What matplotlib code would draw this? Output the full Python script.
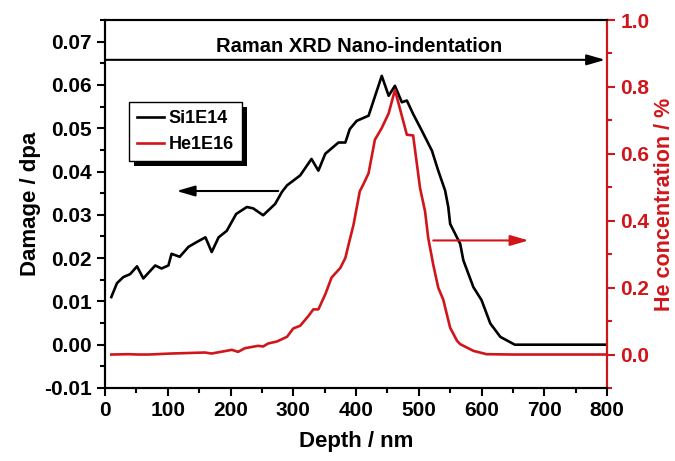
import matplotlib
matplotlib.use("Agg")
import matplotlib.pyplot as plt
from matplotlib.ticker import MultipleLocator, FormatStrFormatter
from matplotlib.patches import Rectangle
from matplotlib.transforms import IdentityTransform

plt.rcParams['font.family'] = ['Liberation Sans', 'DejaVu Sans']
plt.rcParams['font.weight'] = 'bold'

# Si1E14 damage profile (dpa vs depth)
si_depth = [10, 19, 29, 40, 51, 61, 80, 90, 101, 106, 119, 133, 146, 160, 170,
            181, 194, 209, 226, 236, 252, 271, 282, 290, 311, 329, 340, 351, 372, 383,
            390, 401, 420, 441, 452, 462, 473, 481, 491, 505, 521, 531, 542, 547, 550,
            566, 571, 587, 600, 614, 630, 653, 700, 750, 800]
si_dpa = [0.0110, 0.0142, 0.0156, 0.0163, 0.0181, 0.0153, 0.0183, 0.0176, 0.0183, 0.0210,
          0.0203, 0.0226, 0.0237, 0.0248, 0.0214, 0.0248, 0.0263, 0.0302, 0.0318, 0.0315,
          0.0299, 0.0325, 0.0353, 0.0368, 0.0391, 0.0429, 0.0402, 0.0441, 0.0467, 0.0467,
          0.0498, 0.0517, 0.0529, 0.0621, 0.0575, 0.0598, 0.0560, 0.0564, 0.0533, 0.0494,
          0.0448, 0.0402, 0.0356, 0.0318, 0.0279, 0.0233, 0.0195, 0.0133, 0.0103, 0.0049,
          0.0018, 0.0, 0.0, 0.0, 0.0]

# He1E16 concentration profile (% vs depth)
he_depth = [10, 37, 53, 69, 106, 159, 170, 202, 212, 223, 244, 252, 260, 274, 290,
            300, 311, 324, 332, 340, 351, 361, 375, 383, 390, 396, 401, 406, 412, 420,
            430, 441, 452, 462, 481, 491, 502, 510, 515, 523, 531, 539, 550, 561, 566,
            587, 608, 650, 700, 750, 800]
he_conc = [0.0, 0.001, 0.0, 0.0, 0.003, 0.006, 0.003, 0.014, 0.008, 0.019,
           0.026, 0.024, 0.033, 0.039, 0.053, 0.078, 0.086, 0.115, 0.135, 0.135,
           0.180, 0.230, 0.259, 0.289, 0.343, 0.388, 0.438, 0.488, 0.510, 0.542,
           0.642, 0.677, 0.721, 0.791, 0.657, 0.655, 0.498, 0.428, 0.349, 0.269,
           0.200, 0.164, 0.080, 0.041, 0.031, 0.011, 0.001, 0.0, 0.0, 0.0, 0.0]

red = '#d0161b'

fig = plt.figure(figsize=(6.75, 4.61), dpi=100)
ax = fig.add_axes([0.1556, 0.1584, 0.7437, 0.7982])
ax2 = ax.twinx()

l1, = ax.plot(si_depth, si_dpa, color='black', lw=1.9, label='Si1E14')
l2, = ax2.plot(he_depth, he_conc, color=red, lw=1.9, label='He1E16')

ax.set_xlim(0, 800)
ax.set_ylim(-0.01, 0.075)
ax2.set_ylim(-0.1, 1.0)

ax.xaxis.set_major_locator(MultipleLocator(100))
ax.xaxis.set_minor_locator(MultipleLocator(50))
ax.yaxis.set_major_locator(MultipleLocator(0.01))
ax.yaxis.set_minor_locator(MultipleLocator(0.005))
ax2.yaxis.set_major_locator(MultipleLocator(0.2))
ax2.yaxis.set_minor_locator(MultipleLocator(0.1))
ax.yaxis.set_major_formatter(FormatStrFormatter('%.2f'))
ax2.yaxis.set_major_formatter(FormatStrFormatter('%.1f'))

for a in (ax, ax2):
    for s in a.spines.values():
        s.set_linewidth(1.5)
ax.tick_params(axis='both', which='major', direction='out', length=6, width=1.5, labelsize=15)
ax.tick_params(axis='both', which='minor', direction='out', length=3.5, width=1.5)
ax.tick_params(top=False, right=False, which='both')
ax2.tick_params(axis='y', which='major', direction='out', length=6, width=1.5,
                labelsize=15, colors=red)
ax2.tick_params(axis='y', which='minor', direction='out', length=3.5, width=1.5, colors=red)
ax2.spines['right'].set_color(red)

ax.set_xlabel('Depth / nm', fontsize=16, fontweight='bold', labelpad=8)
ax.set_ylabel('Damage / dpa', fontsize=16, fontweight='bold', labelpad=2)
ax2.set_ylabel('He concentration / %', fontsize=15.5, fontweight='bold', color=red, labelpad=3)

arrow = '-|>,head_length=0.55,head_width=0.16'
# top arrow with techniques
ax.annotate('', xy=(797, 0.0658), xytext=(0, 0.0658),
            arrowprops=dict(arrowstyle=arrow, color='black', lw=1.5,
                            mutation_scale=20, shrinkA=0, shrinkB=0))
ax.text(405, 0.0668, 'Raman XRD Nano-indentation', ha='center', va='bottom',
        fontsize=14.5, fontweight='bold')

# black arrow -> left axis
ax.annotate('', xy=(114, 0.0355), xytext=(276, 0.0355),
            arrowprops=dict(arrowstyle=arrow, color='black', lw=1.5,
                            mutation_scale=20, shrinkA=0, shrinkB=0))
# red arrow -> right axis
ax2.annotate('', xy=(675, 0.341), xytext=(523, 0.341),
             arrowprops=dict(arrowstyle=arrow, color=red, lw=1.5,
                             mutation_scale=20, shrinkA=0, shrinkB=0))

leg = ax2.legend([l1, l2], ['Si1E14', 'He1E16'], loc='upper left',
                 bbox_to_anchor=(0.048, 0.777), borderaxespad=0, fancybox=False,
                 edgecolor='black', framealpha=1, fontsize=13, handlelength=1.5,
                 handletextpad=0.25, borderpad=0.45, labelspacing=0.5)
leg.get_frame().set_linewidth(1.0)
leg.set_zorder(6)

# solid black drop shadow like the original
fig.canvas.draw()
bb = leg.get_frame().get_window_extent()
shadow = Rectangle((bb.x0 + 5, bb.y0 - 5), bb.width, bb.height,
                   transform=IdentityTransform(), facecolor='black',
                   edgecolor='none', zorder=5.5)
ax2.add_artist(shadow)

fig.savefig('out.png', dpi=100)
